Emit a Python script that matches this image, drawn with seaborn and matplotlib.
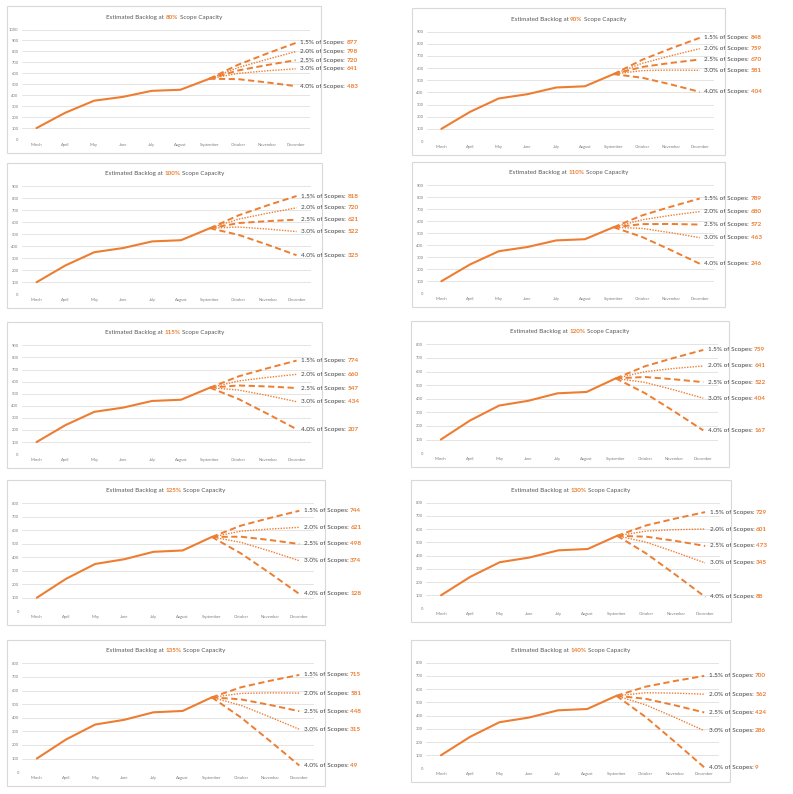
import matplotlib
matplotlib.use("Agg")
import matplotlib.pyplot as plt
from matplotlib.patches import Rectangle
import pandas as pd
import seaborn as sns

# ─── DATA ─────────────────────────────────────────────────────────────────────

MONTHS = ['March', 'April', 'May', 'June', 'July', 'August',
          'September', 'October', 'November', 'December']
BACKLOG = [100, 240, 350, 385, 440, 450, 550]          # March .. September
RATES = ['1.5%', '2.0%', '2.5%', '3.0%', '4.0%']
CAPACITIES = ['80%', '90%', '100%', '110%', '115%',
              '120%', '125%', '130%', '135%', '140%']
Y_MAX = [1000, 900, 900, 900, 900, 800, 800, 800, 800, 800]

# forecast per scope rate: October, November, December
FC_80 = [[678, 780, 877], [652, 727, 798], [626, 675, 720], [599, 623, 641], [547, 517, 483]]
FC_90 = [[668, 761, 848], [639, 701, 759], [609, 642, 670], [579, 583, 581], [520, 465, 404]]
FC_100 = [[658, 741, 818], [626, 675, 720], [593, 609, 621], [560, 543, 522], [494, 412, 325]]
FC_110 = [[649, 721, 789], [612, 649, 680], [576, 577, 572], [540, 504, 463], [468, 359, 246]]
FC_115 = [[644, 711, 774], [606, 635, 660], [568, 560, 547], [530, 485, 434], [455, 333, 207]]
FC_120 = [[639, 701, 759], [599, 623, 641], [560, 543, 522], [520, 465, 404], [441, 307, 167]]
FC_125 = [[634, 691, 744], [593, 609, 621], [552, 527, 498], [510, 445, 374], [428, 281, 128]]
FC_130 = [[629, 681, 729], [586, 596, 601], [543, 511, 473], [501, 425, 345], [415, 254, 88]]
FC_135 = [[624, 672, 715], [579, 583, 581], [535, 494, 448], [491, 405, 315], [402, 228, 49]]
FC_140 = [[619, 662, 700], [573, 570, 562], [527, 478, 424], [481, 386, 286], [389, 201, 9]]

FORECASTS = [FC_80, FC_90, FC_100, FC_110, FC_115,
             FC_120, FC_125, FC_130, FC_135, FC_140]

# panel frames in pixels: left, top, width, height
BOXES = [(7, 6, 314, 147), (412, 8, 313, 147),
         (7, 163, 315, 145), (412, 162, 313, 145),
         (7, 322, 315, 146), (411, 321, 318, 146),
         (7, 480, 318, 145), (411, 480, 320, 142),
         (7, 640, 318, 146), (411, 640, 319, 142)]

ORANGE = '#ED7D31'
DARK = '#404040'
GREY = '#595959'
W, H = 793, 794

sns.set_theme(style='white')
plt.rcParams['font.family'] = ['Lato', 'DejaVu Sans']

# dashed for 1.5/2.5/4.0, dotted for 2.0/3.0
STYLES = [((0, (3.2, 1.8)), 1.4), ((0, (1, 1)), 1.0), ((0, (3.2, 1.8)), 1.4),
          ((0, (1, 1)), 1.0), ((0, (3.2, 1.8)), 1.4)]


def fig_rect(left, top, width, height):
    return [left / W, 1 - (top + height) / H, width / W, height / H]


fig = plt.figure(figsize=(W / 100, H / 100), dpi=100, facecolor='white')
titles = []

for cap, ymax, fc, (bl, bt, bw, bh) in zip(CAPACITIES, Y_MAX, FORECASTS, BOXES):
    fig.patches.append(Rectangle((bl / W, 1 - (bt + bh) / H), bw / W, bh / H,
                                 transform=fig.transFigure, fill=False,
                                 edgecolor='#d9d9d9', linewidth=0.8))

    ax = fig.add_axes(fig_rect(bl + 0.048 * bw, bt + 0.16 * bh,
                               0.917 * bw, 0.745 * bh))
    ax.set_facecolor('none')

    hist = pd.DataFrame({'x': range(len(BACKLOG)), 'y': BACKLOG})
    sns.lineplot(data=hist, x='x', y='y', ax=ax, color=ORANGE,
                 linewidth=1.5, zorder=3)

    for rate, vals, (ls, lw) in zip(RATES, fc, STYLES):
        d = pd.DataFrame({'x': [6, 7, 8, 9], 'y': [BACKLOG[-1]] + vals})
        sns.lineplot(data=d, x='x', y='y', ax=ax, color=ORANGE,
                     linewidth=lw, linestyle=ls, zorder=3)
        t1 = ax.annotate(rate + ' of Scopes:', xy=(9, vals[-1]),
                         xytext=(3.2, 0), textcoords='offset points',
                         va='center', ha='left', fontsize=4.6, color=DARK,
                         annotation_clip=False)
        ax.annotate(str(vals[-1]), xy=(1, 0), xycoords=t1,
                    xytext=(1.3, 0), textcoords='offset points',
                    va='bottom', ha='left', fontsize=4.6, color=ORANGE,
                    fontweight='bold', annotation_clip=False)

    ax.set_xlim(-0.5, 9.5)
    ax.set_ylim(0, ymax)
    ax.set_xticks(range(len(MONTHS)))
    ax.set_xticklabels(MONTHS)
    ax.set_yticks(range(0, ymax + 1, 100))
    ax.set_xlabel('')
    ax.set_ylabel('')
    ax.yaxis.grid(True, color='#d9d9d9', linewidth=0.5)
    ax.xaxis.grid(False)
    ax.tick_params(length=0, labelsize=3, colors='#7f7f7f', pad=2.5)
    for s in ax.spines.values():
        s.set_visible(False)

    # three-part title, centred over the frame
    cx, cy = (bl + bw / 2) / W, 1 - (bt + 0.075 * bh) / H
    p1 = fig.text(cx, cy, 'Estimated Backlog at', fontsize=4.5, color=GREY,
                  ha='left', va='center')
    p2 = fig.text(0, 0, cap, fontsize=4.5, color=ORANGE, fontweight='bold')
    p3 = fig.text(0, 0, 'Scope Capacity', fontsize=4.5, color=GREY)
    titles.append((cx, cy, p1, p2, p3))

# place title pieces after measuring them
r = fig.canvas.get_renderer()
gap = 1.2 * 100 / 72 / W
for cx, cy, p1, p2, p3 in titles:
    w1 = p1.get_window_extent(r).width / W
    w2 = p2.get_window_extent(r).width / W
    w3 = p3.get_window_extent(r).width / W
    x0 = cx - (w1 + w2 + w3 + 2 * gap) / 2
    p1.set_position((x0, cy))
    for p, x in ((p2, x0 + w1 + gap), (p3, x0 + w1 + w2 + 2 * gap)):
        p.set_position((x, cy))
        p.set_ha('left')
        p.set_va('center')

fig.savefig('out.png', dpi=100, facecolor='white')
